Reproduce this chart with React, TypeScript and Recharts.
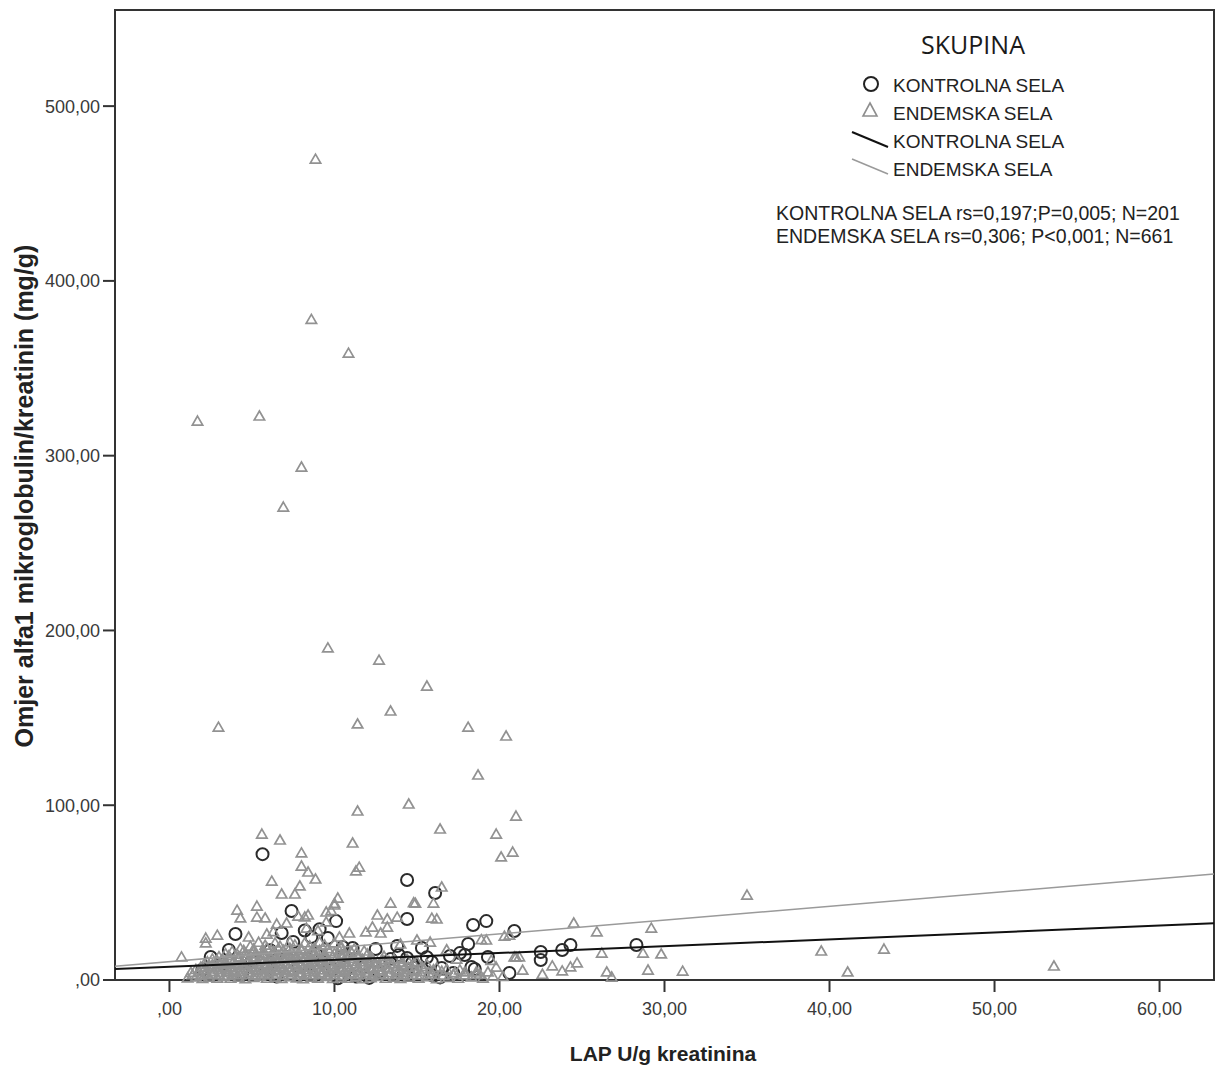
import { ReferenceArea, Scatter, ScatterChart, XAxis, YAxis } from 'recharts'

// LAP U/g kreatinina (x) vs omjer alfa1 mikroglobulin/kreatinin (y)
const endemskaOutliers: [number, number][] = [
  [8.85, 469.7], [8.6, 378], [10.85, 358.7], [1.7, 319.8], [5.45, 322.7], [8.0, 293.5],
  [6.9, 270.6], [9.6, 190], [12.7, 183], [15.6, 168.2], [2.97, 144.7], [11.4, 146.5],
  [13.4, 153.9], [18.1, 144.7], [20.4, 139.6], [18.7, 117.3], [14.5, 100.7], [11.4, 96.7],
  [21.0, 93.8], [16.4, 86.4], [19.8, 83.5], [5.6, 83.5], [6.7, 80.1], [20.1, 70.4],
  [20.8, 73.2], [8.0, 72.7], [11.1, 78.4], [35.0, 48.6], [39.5, 16.6], [43.3, 17.7],
  [41.1, 4.6], [53.6, 8], [31.1, 5.1], [24.5, 32.6], [25.9, 27.5], [29.2, 29.7],
  [26.2, 15.4], [28.7, 15.4], [29.8, 14.9], [26.5, 4.6], [26.8, 1.7], [29.0, 5.7],
  [23.8, 5.2], [24.3, 7.5], [24.7, 9.8], [19.2, 22.9], [20.9, 13.2], [21.2, 13.2],
  [20.6, 25.7], [16.5, 53.2], [16.2, 34.9], [16.0, 44], [14.9, 44], [13.4, 44],
  [15.8, 21.7], [15.0, 22.9], [19.3, 4.6], [19.8, 7.4], [17.9, 4.6], [11.5, 64.6],
  [11.3, 62.4], [8.0, 65.2], [8.4, 61.8], [8.85, 57.8], [6.2, 56.6], [7.9, 53.8],
  [6.8, 49.2], [7.6, 49.2], [10.2, 46.9], [10.0, 42.9], [9.5, 38.9], [12.6, 37.2],
  [13.2, 34.9], [13.8, 36], [4.1, 40], [5.3, 42.3], [4.3, 35.5], [5.3, 36], [5.8, 35.5],
  [8.4, 37.2], [6.5, 32], [7.1, 32.6], [2.2, 24], [2.9, 25.7], [2.2, 21.2], [0.73, 13.2],
  [4.8, 24.6], [5.9, 26.3], [9.5, 33.2], [10.9, 26.9], [11.9, 27.5], [10.3, 24.6],
  [8.3, 29.7], [10.0, 43.8], [9.8, 39.7], [13.2, 30.3], [14.8, 44.2], [15.9, 35.4],
  [8.2, 36.1], [7.8, 36.6], [14.0, 20.6], [12.3, 30.3], [12.8, 26.9], [18.9, 23.1],
  [20.3, 25.1], [21.0, 13.1], [6.3, 27.7], [9.0, 28.3], [18.6, 3.2], [20.2, 2.1],
  [21.4, 5.6], [22.6, 3.3], [23.2, 8.1], [19.5, 11.2], [17.4, 11.9], [16.8, 17.3],
]

const endemskaClump: [number, number][] = [
  [1.1, 1.2], [1.6, 1.8], [2.0, 0.9], [2.4, 1.6], [2.9, 1.1], [3.3, 2.0], [3.7, 1.0],
  [4.2, 1.7], [4.6, 0.8], [5.1, 1.5], [5.5, 2.1], [5.9, 1.0], [6.4, 1.6], [6.8, 0.9],
  [7.3, 1.9], [7.7, 1.2], [8.1, 0.8], [8.6, 1.7], [9.0, 1.1], [9.5, 2.0], [9.9, 0.9],
  [10.4, 1.5], [10.8, 1.0], [11.3, 1.8], [11.7, 0.8], [12.2, 1.4], [12.6, 2.0],
  [13.1, 1.0], [13.6, 1.6], [14.0, 0.9], [14.5, 1.7], [15.1, 1.1], [15.6, 1.9],
  [16.2, 0.8], [16.9, 1.5], [17.5, 1.0], [18.3, 1.8], [19.0, 1.1], [19.6, 2.2],
  [1.4, 3.1], [1.9, 2.8], [2.3, 3.4], [2.6, 2.9], [3.0, 3.3], [3.5, 2.7], [3.9, 3.2],
  [4.3, 2.9], [4.8, 3.4], [5.2, 2.8], [5.6, 3.3], [6.0, 2.9], [6.5, 3.4], [6.9, 2.7],
  [7.4, 3.2], [7.9, 2.8], [8.3, 3.3], [8.7, 2.9], [9.2, 3.4], [9.6, 2.8], [10.0, 3.2],
  [10.5, 2.7], [11.0, 3.3], [11.4, 2.9], [11.9, 3.4], [12.3, 2.8], [12.8, 3.2],
  [13.3, 2.9], [13.8, 3.4], [14.2, 2.8], [14.7, 3.2], [15.3, 2.9], [15.9, 3.3],
  [16.6, 2.8], [17.2, 3.2], [17.9, 2.9], [18.8, 3.3],
  [1.3, 4.4], [1.8, 5.0], [2.2, 4.1], [2.7, 4.8], [3.1, 4.3], [3.6, 5.1], [4.0, 4.2],
  [4.4, 4.9], [4.9, 4.5], [5.3, 5.2], [5.8, 4.0], [6.2, 4.7], [6.6, 5.3], [7.1, 4.3],
  [7.5, 4.9], [8.0, 4.1], [8.4, 5.0], [8.8, 4.6], [9.3, 4.2], [9.7, 5.1], [10.2, 4.4],
  [10.6, 4.8], [11.1, 4.1], [11.5, 5.2], [12.0, 4.5], [12.4, 4.0], [12.9, 4.9],
  [13.4, 4.3], [13.9, 5.1], [14.4, 4.4], [15.0, 4.8], [15.7, 4.2], [16.5, 5.0],
  [17.3, 4.3], [18.6, 4.7],
  [1.6, 6.1], [2.1, 5.8], [2.6, 6.3], [3.0, 5.9], [3.4, 6.2], [3.9, 5.7], [4.3, 6.3],
  [4.7, 5.9], [5.2, 6.2], [5.6, 5.8], [6.0, 6.4], [6.5, 5.9], [6.9, 6.2], [7.3, 5.7],
  [7.8, 6.3], [8.2, 5.9], [8.7, 6.2], [9.1, 5.8], [9.6, 6.3], [10.0, 5.9], [10.5, 6.2],
  [10.9, 5.7], [11.4, 6.3], [11.9, 5.9], [12.3, 6.2], [12.8, 5.8], [13.3, 6.3],
  [13.7, 5.9], [14.2, 6.2], [14.8, 5.8], [15.4, 6.3], [16.0, 5.9], [16.8, 6.2], [17.6, 5.8],
  [1.9, 7.4], [2.4, 7.9], [2.8, 7.1], [3.3, 7.8], [3.7, 7.3], [4.2, 8.0], [4.6, 7.2],
  [5.0, 7.7], [5.5, 7.4], [5.9, 8.1], [6.3, 7.2], [6.8, 7.8], [7.2, 7.3], [7.7, 7.9],
  [8.1, 7.2], [8.5, 7.7], [9.0, 8.0], [9.4, 7.3], [9.9, 7.8], [10.3, 7.2], [10.8, 7.9],
  [11.2, 7.4], [11.7, 7.8], [12.2, 7.1], [12.7, 7.7], [13.2, 7.3], [13.8, 7.9],
  [14.5, 7.2], [15.3, 7.6], [16.2, 7.1],
  [2.1, 9.1], [2.6, 8.8], [3.1, 9.3], [3.5, 8.9], [4.0, 9.2], [4.4, 8.7], [4.9, 9.3],
  [5.3, 8.9], [5.8, 9.2], [6.2, 8.8], [6.7, 9.3], [7.1, 8.9], [7.6, 9.2], [8.0, 8.7],
  [8.5, 9.3], [8.9, 8.9], [9.4, 9.2], [9.8, 8.8], [10.3, 9.3], [10.8, 8.9], [11.3, 9.2],
  [11.8, 8.8], [12.4, 9.3], [12.9, 8.9], [13.5, 9.2], [14.1, 8.8], [14.8, 9.2], [15.6, 8.9],
  [2.3, 10.4], [2.9, 10.9], [3.4, 10.2], [3.9, 10.8], [4.4, 10.3], [4.8, 11.0],
  [5.3, 10.4], [5.7, 10.9], [6.2, 10.2], [6.6, 10.7], [7.0, 10.3], [7.5, 11.0],
  [7.9, 10.4], [8.4, 10.8], [8.8, 10.2], [9.3, 10.9], [9.7, 10.3], [10.2, 10.8],
  [10.6, 10.2], [11.1, 10.7], [11.6, 10.4], [12.1, 10.9], [12.6, 10.3], [13.3, 10.6],
  [14.1, 10.2], [15.0, 10.5],
  [2.6, 12.1], [3.2, 11.8], [3.7, 12.3], [4.2, 11.9], [4.6, 12.2], [5.1, 11.7],
  [5.5, 12.3], [6.0, 11.9], [6.4, 12.2], [6.9, 11.8], [7.3, 12.3], [7.8, 11.9],
  [8.2, 12.2], [8.7, 11.7], [9.1, 12.3], [9.6, 11.9], [10.1, 12.2], [10.6, 11.8],
  [11.1, 12.3], [11.7, 11.9], [12.3, 12.2], [12.9, 11.8], [13.6, 12.1], [14.4, 11.9],
  [3.0, 13.4], [3.6, 13.9], [4.2, 13.3], [4.7, 13.8], [5.2, 13.2], [5.7, 13.9],
  [6.1, 13.4], [6.6, 13.8], [7.1, 13.3], [7.5, 14.0], [8.0, 13.4], [8.5, 13.8],
  [8.9, 13.2], [9.4, 13.9], [9.9, 13.4], [10.4, 13.8], [10.9, 13.3], [11.5, 13.7],
  [12.2, 13.2], [13.0, 13.6],
  [3.4, 15.1], [4.1, 14.8], [4.6, 15.3], [5.2, 14.9], [5.7, 15.2], [6.3, 14.8],
  [6.8, 15.3], [7.3, 14.9], [7.8, 15.2], [8.3, 14.8], [8.8, 15.3], [9.4, 14.9],
  [10.0, 15.2], [10.6, 14.8], [11.3, 15.1], [12.0, 14.9],
  [3.8, 16.4], [4.5, 16.9], [5.1, 16.3], [5.7, 16.8], [6.3, 16.4], [6.9, 17.0],
  [7.4, 16.3], [8.0, 16.8], [8.6, 16.5], [9.1, 17.0], [9.7, 16.4], [10.3, 16.8],
  [11.0, 16.3], [11.8, 16.6],
  [4.3, 18.1], [5.1, 17.8], [5.9, 18.3], [6.6, 17.9], [7.3, 18.2], [8.0, 17.8],
  [8.8, 18.3], [9.6, 17.9], [10.4, 18.2], [11.2, 17.8],
  [4.9, 19.4], [5.8, 19.9], [6.7, 19.3], [7.6, 20.1], [8.5, 19.5], [9.4, 20.0], [10.4, 19.4],
  [5.4, 21.6], [6.4, 21.2], [7.3, 21.8], [8.2, 21.3], [9.1, 21.7], [10.0, 21.2],
]

const kontrolnaSela: [number, number][] = [
  [5.64, 72], [7.4, 39.5], [4.0, 26.3], [6.8, 26.9], [7.5, 21.7], [9.1, 29], [8.6, 24.6],
  [9.6, 24], [10.1, 33.7], [3.6, 17.2], [2.5, 13.2], [12.5, 17.7], [13.8, 19.5],
  [11.1, 18.3], [10.5, 18.9], [14.4, 57.2], [16.1, 49.8], [14.4, 34.9], [18.4, 31.5],
  [19.2, 33.7], [20.9, 28], [18.1, 20.6], [17.0, 13.7], [17.6, 15.4], [17.9, 14.3],
  [19.3, 13.2], [22.5, 16], [22.5, 11.4], [23.8, 17.2], [24.3, 20], [28.3, 20],
  [20.6, 4], [13.9, 14.3], [14.7, 9.7], [13.0, 9.7], [15.9, 10.3], [16.5, 6.9],
  [15.9, 2.9], [18.3, 7.4], [18.5, 6.3], [15.3, 18.3], [14.4, 12.6], [8.2, 28.3],
  [2.0, 6], [3.2, 9], [4.4, 4], [5.0, 11], [5.9, 7], [6.5, 2], [7.1, 13], [7.8, 8],
  [8.5, 3], [9.2, 11], [9.9, 6], [10.6, 14], [11.3, 2], [11.9, 9], [12.7, 5], [13.4, 12],
  [14.2, 3], [14.9, 7], [15.6, 13], [16.4, 1.5], [17.2, 4], [12.1, 1.2], [10.2, 1],
  [8.9, 15], [6.1, 17],
]

// linearni trend (rubovi osi x)
const kontrolnaFit: [number, number][] = [[-3.3, 6.3], [63.3, 32.4]]
const endemskaFit: [number, number][] = [[-3.3, 7.9], [63.3, 60.6]]

const xTicks = [0, 10, 20, 30, 40, 50, 60]
const yTicks = [0, 100, 200, 300, 400, 500]

const toPoints = (arr: [number, number][]) => arr.map(([x, y]) => ({ x, y }))

const fmt = (v: number) => (v === 0 ? ',00' : `${v},00`)

const FONT = '"Liberation Sans", Arial, sans-serif'

const Triangle = (props: any) => {
  const { cx, cy } = props
  return (
    <path
      d={`M${cx},${cy - 5}L${cx + 5.2},${cy + 4}L${cx - 5.2},${cy + 4}Z`}
      fill="none"
      stroke="#929292"
      strokeWidth={1.7}
    />
  )
}

const Ring = (props: any) => {
  const { cx, cy } = props
  return <circle cx={cx} cy={cy} r={6} fill="none" stroke="#2b2b2b" strokeWidth={2} />
}

const NoDot = () => <g />

const App = () => {
  return (
    <div style={{ position: 'absolute', left: 0, top: 0, width: 1216, height: 1072, background: '#fff' }}>
      <ScatterChart width={1216} height={1072} margin={{ top: 10, right: 2, left: 0, bottom: 0 }}>
        <XAxis
          type="number"
          dataKey="x"
          domain={[-3.3, 63.3]}
          ticks={xTicks}
          tickFormatter={fmt}
          height={92}
          tickSize={12}
          tickMargin={10}
          axisLine={{ stroke: '#333', strokeWidth: 2 }}
          tickLine={{ stroke: '#333', strokeWidth: 2 }}
          tick={{ fontSize: 18, fill: '#3a3a3a', fontFamily: FONT }}
        />
        <YAxis
          type="number"
          dataKey="y"
          domain={[0, 555]}
          ticks={yTicks}
          tickFormatter={fmt}
          width={115}
          tickSize={12}
          tickMargin={3}
          axisLine={{ stroke: '#333', strokeWidth: 2 }}
          tickLine={{ stroke: '#333', strokeWidth: 2 }}
          tick={{ fontSize: 18, fill: '#3a3a3a', fontFamily: FONT }}
        />
        <ReferenceArea x1={-3.3} x2={63.3} y1={0} y2={555} fill="none" stroke="#333" strokeWidth={2} />
        <Scatter data={toPoints(kontrolnaSela)} shape={Ring} isAnimationActive={false} />
        <Scatter data={toPoints([...endemskaClump, ...endemskaOutliers])} shape={Triangle} isAnimationActive={false} />
        <Scatter
          data={toPoints(endemskaFit)}
          line={{ stroke: '#9a9a9a', strokeWidth: 1.5 }}
          shape={NoDot}
          isAnimationActive={false}
        />
        <Scatter
          data={toPoints(kontrolnaFit)}
          line={{ stroke: '#111', strokeWidth: 2 }}
          shape={NoDot}
          isAnimationActive={false}
        />
      </ScatterChart>

      <svg
        width={1216}
        height={1072}
        style={{ position: 'absolute', left: 0, top: 0, pointerEvents: 'none' }}
      >
        <text x={973} y={54} textAnchor="middle" fontSize={25} fontFamily='"Open Sans", sans-serif' fill="#1a1a1a">
          SKUPINA
        </text>
        <circle cx={871} cy={84} r={7} fill="none" stroke="#222" strokeWidth={2} />
        <path d="M870,103L877,116L863,116Z" fill="none" stroke="#8e8e8e" strokeWidth={1.6} />
        <line x1={852} y1={132} x2={888} y2={147} stroke="#111" strokeWidth={2} />
        <line x1={852} y1={159} x2={888} y2={174} stroke="#9a9a9a" strokeWidth={1.5} />
        <g fontSize={19} fontFamily={FONT} fill="#222">
          <text x={893} y={92}>KONTROLNA SELA</text>
          <text x={893} y={120}>ENDEMSKA SELA</text>
          <text x={893} y={148}>KONTROLNA SELA</text>
          <text x={893} y={176}>ENDEMSKA SELA</text>
        </g>
        <g fontSize={19.5} fontFamily={FONT} fill="#222">
          <text x={776} y={220}>KONTROLNA SELA rs=0,197;P=0,005; N=201</text>
          <text x={776} y={243}>ENDEMSKA SELA rs=0,306; P&lt;0,001; N=661</text>
        </g>
        <text
          x={663}
          y={1061}
          textAnchor="middle"
          fontSize={21}
          fontWeight="bold"
          fontFamily={FONT}
          fill="#222"
        >
          LAP U/g kreatinina
        </text>
        <text
          x={0}
          y={0}
          transform="translate(33,496) rotate(-90)"
          textAnchor="middle"
          fontSize={25}
          fontWeight="bold"
          fontFamily={FONT}
          fill="#222"
        >
          Omjer alfa1 mikroglobulin/kreatinin (mg/g)
        </text>
      </svg>
    </div>
  )
}

export default App
